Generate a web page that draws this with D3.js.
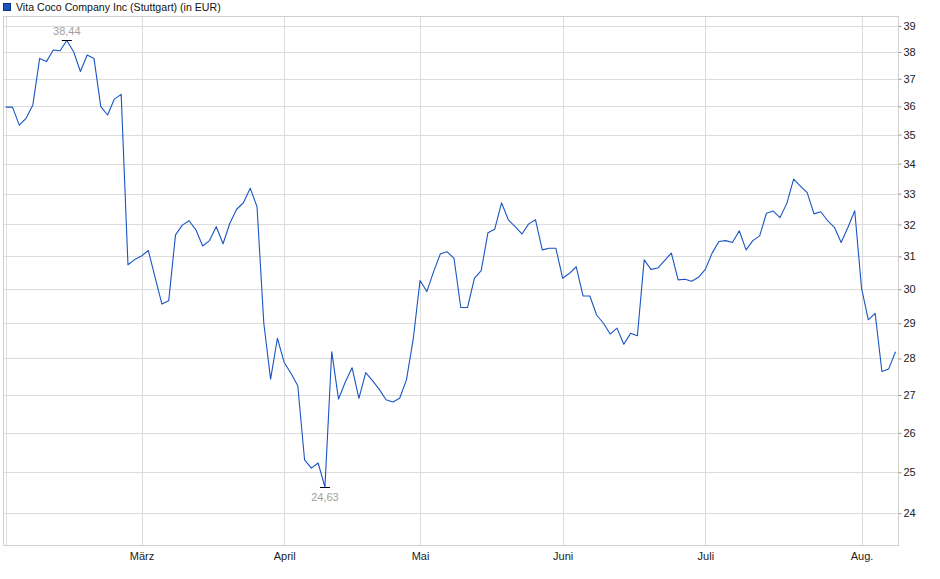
<!DOCTYPE html>
<html><head><meta charset="utf-8">
<script src="https://cdn.jsdelivr.net/npm/d3@7/dist/d3.min.js"></script>
<style>
html,body{margin:0;padding:0;background:#fff;}
svg{display:block;font-family:"Liberation Sans",Arial,sans-serif;}
</style></head>
<body><svg id="c" width="940" height="579"></svg>
<script>
const title = "Vita Coco Company Inc (Stuttgart) (in EUR)";
// closing prices per trading day (Feb 3 .. Aug 8)
const prices = [
35.97,35.97,35.33,35.57,36.05,37.76,37.64,38.08,38.05,38.44,
38.01,37.27,37.89,37.76,35.99,35.69,36.26,36.43,30.74,30.90,
31.01,31.18,30.35,29.56,29.66,31.67,31.98,32.12,31.83,31.32,
31.49,31.93,31.39,32.04,32.49,32.70,33.18,32.57,29.00,27.43,
28.57,27.89,27.59,27.25,25.31,25.10,25.23,24.63,28.19,26.89,
27.35,27.74,26.91,27.61,27.39,27.15,26.87,26.81,26.91,27.41,
28.55,30.26,29.93,30.53,31.08,31.14,30.94,29.46,29.46,30.33,
30.56,31.74,31.85,32.70,32.15,31.93,31.70,32.02,32.15,31.20,
31.25,31.25,30.33,30.48,30.68,29.80,29.80,29.24,29.00,28.69,
28.86,28.40,28.71,28.64,30.89,30.60,30.64,30.87,31.10,30.28,
30.30,30.24,30.36,30.60,31.10,31.46,31.49,31.43,31.80,31.20,
31.49,31.64,32.36,32.43,32.22,32.68,33.48,33.25,33.03,32.34,
32.41,32.12,31.91,31.43,31.91,32.44,30.03,29.10,29.29,27.64,
27.71,28.19];
const monthLabels = ["", "März", "April", "Mai", "Juni", "Juli", "Aug."];
const monthStartIdx = [0, 20, 41, 61, 82, 103, 126];
const yTicks = [24,25,26,27,28,29,30,31,32,33,34,35,36,37,38,39];
const maxLabel = "38,44", minLabel = "24,63";

const svg = d3.select("#c");
const L = 3, R = 898, T = 16, B = 545;
const x = d3.scaleLinear().domain([0, prices.length - 1]).range([5.7, 895.5]);
const y = d3.scaleLog().domain([23.25, 39.39]).range([B, T]);

const grid = "#dcdcdc";
svg.append("g").selectAll("line").data(yTicks).join("line")
  .attr("x1", L).attr("x2", R)
  .attr("y1", d => Math.round(y(d)) + 0.5).attr("y2", d => Math.round(y(d)) + 0.5)
  .attr("stroke", grid).attr("stroke-width", 1);
svg.append("g").selectAll("line").data(monthStartIdx).join("line")
  .attr("x1", d => Math.round(x(d)) + 0.5).attr("x2", d => Math.round(x(d)) + 0.5)
  .attr("y1", T).attr("y2", B)
  .attr("stroke", grid).attr("stroke-width", 1);
svg.append("rect").attr("x", L + 0.5).attr("y", T + 0.5)
  .attr("width", R - L).attr("height", B - T)
  .attr("fill", "none").attr("stroke", "#d0d0d0");

const yAxis = d3.axisRight(y).tickValues(yTicks).tickFormat(d3.format("d")).tickSize(3).tickPadding(2);
const ga = svg.append("g").attr("transform", `translate(${R + 0.5},0)`).call(yAxis);
ga.select(".domain").remove();
ga.selectAll(".tick line").attr("stroke", "#999");
ga.selectAll(".tick text").attr("font-size", 11).attr("fill", "#222")
  .attr("font-family", "Liberation Sans, Arial, sans-serif");

const xAxis = d3.axisBottom(x).tickValues(monthStartIdx.slice(1))
  .tickFormat((d, i) => monthLabels[i + 1]).tickSize(0).tickPadding(7);
const gx = svg.append("g").attr("transform", `translate(0,${B})`).call(xAxis);
gx.select(".domain").remove();
gx.selectAll(".tick text").attr("font-size", 11).attr("fill", "#222")
  .attr("font-family", "Liberation Sans, Arial, sans-serif");

const line = d3.line().x((d, i) => x(i)).y(d => y(d));
svg.append("path").datum(prices).attr("d", line)
  .attr("fill", "none").attr("stroke", "#1a55c3").attr("stroke-width", 1.1)
  .attr("stroke-linejoin", "round");

const iMax = d3.maxIndex(prices), iMin = d3.minIndex(prices);
function marker(i, label, above) {
  const cx = x(i), cy = y(prices[i]);
  svg.append("line").attr("x1", cx - 5).attr("x2", cx + 5)
    .attr("y1", Math.round(cy) + 0.5).attr("y2", Math.round(cy) + 0.5)
    .attr("stroke", "#000").attr("stroke-width", 1);
  svg.append("text").attr("x", cx).attr("y", above ? cy - 5 : cy + 14)
    .attr("text-anchor", "middle").attr("font-size", 11).attr("fill", "#a0a0a0")
    .text(label);
}
marker(iMax, maxLabel, true);
marker(iMin, minLabel, false);

svg.append("rect").attr("x", 3.5).attr("y", 3.5).attr("width", 7).attr("height", 7)
  .attr("fill", "#1a55c3").attr("stroke", "#0d2f73");
svg.append("text").attr("x", 16).attr("y", 11).attr("font-size", 10.6).attr("fill", "#111")
  .text(title);
</script></body></html>
